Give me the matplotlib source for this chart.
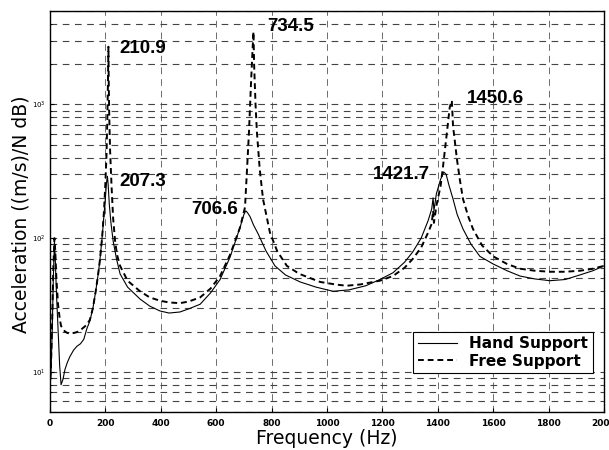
import matplotlib
matplotlib.use('Agg')
import matplotlib.pyplot as plt
import matplotlib.ticker as ticker

# ── Data ───────────────────────────────────────────────────────────────────
HAND_F = [0, 3, 8, 12, 16, 19, 23, 29, 35, 40, 47, 54, 63, 72, 85, 97, 110, 122,
          133, 144, 155, 165, 173, 180, 188, 195, 200, 204, 207.3, 210, 214, 220,
          228, 240, 253, 280, 325, 360, 397, 430, 469, 500, 542, 580, 614, 650,
          686, 700, 706.6, 713, 722, 735, 751, 780, 812, 850, 903, 960, 1022,
          1080, 1140, 1191, 1238, 1280, 1310, 1340, 1365, 1378, 1383, 1386, 1395,
          1410, 1421.7, 1430, 1440, 1455, 1470, 1491, 1520, 1552, 1600, 1650,
          1697, 1750, 1805, 1860, 1913, 1960, 2000]
HAND_A = [8, 9, 20, 50, 95, 70, 40, 21, 11, 8, 8.8, 10.4, 11.8, 13, 14.5, 15.5,
          16.2, 17.5, 21, 24, 30, 40, 52, 68, 100, 150, 200, 260, 290, 250, 180,
          130, 95, 70, 54, 43, 35, 31, 28.5, 27.5, 28, 29.5, 32, 39, 49, 72, 120,
          150, 160, 155, 145, 125, 108, 80, 62, 53, 47, 43, 40, 41, 44, 49, 55,
          66, 79, 100, 135, 165, 200, 160, 215, 275, 312, 300, 250, 196, 150, 117,
          90, 73, 64, 57, 52, 49.5, 48, 49, 53, 57, 62]

FREE_F = [0, 3, 8, 12, 16, 19, 23, 29, 35, 40, 47, 54, 63, 72, 85, 97, 110, 122,
          133, 144, 155, 165, 173, 180, 188, 195, 200, 204, 207, 209.5, 210.9, 212,
          214, 217, 222, 228, 235, 242, 253, 280, 325, 360, 397, 430, 469, 500,
          542, 580, 614, 650, 686, 704, 718, 726, 731, 734.5, 737, 742, 747, 757,
          769, 794, 820, 855, 900, 975, 1030, 1070, 1120, 1191, 1238, 1280, 1310,
          1340, 1365, 1378, 1383, 1386, 1395, 1410, 1419, 1433, 1443, 1450.6, 1455,
          1462, 1469, 1480, 1491, 1510, 1527, 1560, 1600, 1650, 1697, 1750, 1805,
          1860, 1913, 1960, 2000]
FREE_A = [9, 10, 25, 60, 100, 80, 50, 32, 25, 22, 21, 20, 19.5, 19.3, 19.5, 19.8,
          20.5, 21.5, 22.5, 24.5, 30, 40, 52, 68, 100, 160, 260, 420, 800, 1600,
          2700, 1500, 800, 450, 250, 140, 95, 75, 62, 48, 40, 36, 34, 33, 32.6,
          33.5, 36, 42, 52, 75, 120, 170, 600, 1500, 2500, 3500, 1950, 1000, 620,
          330, 196, 110, 80, 62, 54, 47, 45, 44, 45, 48, 52, 60, 70, 85, 110, 128,
          160, 130, 175, 245, 346, 620, 950, 1070, 690, 520, 390, 270, 196, 145,
          117, 88, 73, 64, 59, 57, 56, 56, 57, 59, 62]

PEAK_TEXT = ['210.9', '207.3', '734.5', '706.6', '1421.7', '1450.6']
PEAK_X    = [250, 252, 786, 680, 1165, 1505]
PEAK_Y    = [2600, 265, 3800, 165, 300, 1100]
PEAK_HA   = ['left', 'left', 'left', 'right', 'left', 'left']

# ── Figure ─────────────────────────────────────────────────────────────────
fig = plt.figure(figsize=(6.09, 4.50), dpi=100)
ax = fig.add_axes([50 / 609, 38 / 450, 554 / 609, 401 / 450])

ax.plot(HAND_F, HAND_A, color='black', lw=0.8, label='Hand Support')
ax.plot(FREE_F, FREE_A, color='black', lw=1.4, dashes=(3, 2), label='Free Support')

ax.set_yscale('log')
ax.set_xlim(0, 2000)
ax.set_ylim(5, 5000)
ax.xaxis.set_major_locator(ticker.MultipleLocator(200))
ax.yaxis.set_major_locator(ticker.LogLocator(base=10, numticks=10))
ax.yaxis.set_minor_locator(ticker.LogLocator(base=10, subs=range(2, 10), numticks=20))
ax.yaxis.set_minor_formatter(ticker.NullFormatter())

ax.grid(True, which='both', axis='y', color='#444444', lw=0.8, dashes=(6, 5))
ax.grid(True, which='major', axis='x', color='#555555', lw=0.6, dashes=(8, 6))

ax.tick_params(axis='x', labelsize=6.5, direction='in', length=3, pad=5)
ax.tick_params(axis='y', which='major', labelsize=5, direction='in', length=3, pad=3)
ax.tick_params(axis='y', which='minor', direction='in', length=1.5)
for lab in ax.get_xticklabels():
    lab.set_fontweight('bold')

for s in ax.spines.values():
    s.set_linewidth(1.0)

for t, x, y, ha in zip(PEAK_TEXT, PEAK_X, PEAK_Y, PEAK_HA):
    ax.text(x, y, t, ha=ha, va='center', fontsize=13.5, fontweight='bold',
            family='Liberation Sans')

fig.text(327 / 609, 1 - 438 / 450, 'Frequency (Hz)', ha='center', va='center',
         fontsize=13.5, family='DejaVu Sans')
fig.text(21 / 609, 1 - 214 / 450, 'Acceleration ((m/s)/N dB)', ha='center',
         va='center', rotation=90, fontsize=13.5, family='DejaVu Sans')

leg = ax.legend(loc='lower right', bbox_to_anchor=(0.98, 0.097), borderaxespad=0,
                handlelength=2.6, handletextpad=0.8, labelspacing=0.15,
                fancybox=False, framealpha=1, edgecolor='black', borderpad=0.3,
                prop={'family': 'DejaVu Sans', 'size': 11, 'weight': 'bold'})
leg.get_frame().set_linewidth(0.8)

fig.savefig('out.png', dpi=100)
